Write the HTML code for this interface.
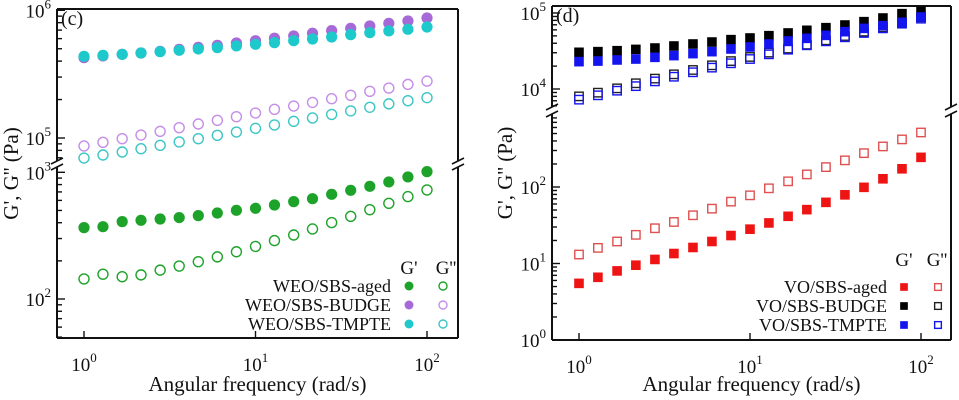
<!DOCTYPE html>
<html><head><meta charset="utf-8"><style>
html,body{margin:0;padding:0;background:#fff;}
svg{display:block;font-family:"Liberation Serif",serif;}
</style></head><body>
<svg id="c" width="959" height="400" viewBox="0 0 959 400" xmlns="http://www.w3.org/2000/svg"></svg>
<script>
// ---------- data ----------
const freq = [1,1.29,1.67,2.15,2.78,3.59,4.64,5.99,7.74,10,12.9,16.7,21.5,27.8,35.9,46.4,59.9,77.4,100];
// panel (c)
const weoTmpteGp  = [4.36e5,4.44e5,4.52e5,4.63e5,4.74e5,4.86e5,4.98e5,5.10e5,5.26e5,5.42e5,5.58e5,5.78e5,5.96e5,6.18e5,6.45e5,6.68e5,6.89e5,7.10e5,7.40e5];
const weoBudgeGp  = [4.26e5,4.39e5,4.52e5,4.63e5,4.77e5,4.95e5,5.13e5,5.32e5,5.55e5,5.78e5,6.04e5,6.30e5,6.61e5,6.93e5,7.23e5,7.54e5,7.91e5,8.25e5,8.71e5];
const weoBudgeGpp = [8.66e4,9.25e4,9.88e4,1.055e5,1.127e5,1.205e5,1.287e5,1.375e5,1.469e5,1.569e5,1.677e5,1.78e5,1.90e5,2.03e5,2.16e5,2.32e5,2.46e5,2.63e5,2.79e5];
const weoTmpteGpp = [6.97e4,7.36e4,7.77e4,8.24e4,8.76e4,9.31e4,9.88e4,1.05e5,1.114e5,1.19e5,1.265e5,1.35e5,1.435e5,1.53e5,1.63e5,1.74e5,1.85e5,1.96e5,2.07e5];
const weoAgedGp   = [366,372,408,418,428,439,455,477,501,520,552,587,619,670,721,775,839,919,1012];
const weoAgedGpp  = [144,157,150,155,169,182,197,215,236,260,289,320,357,401,449,507,569,643,726];
// panel (d)
const voBudgeGp   = [3.04e4,3.10e4,3.19e4,3.32e4,3.46e4,3.68e4,3.91e4,4.15e4,4.46e4,4.69e4,5.03e4,5.46e4,5.92e4,6.41e4,6.95e4,7.69e4,8.59e4,9.8e4,1.05e5];
const voTmpteGp   = [2.29e4,2.33e4,2.41e4,2.48e4,2.61e4,2.75e4,2.92e4,3.10e4,3.36e4,3.57e4,3.91e4,4.28e4,4.64e4,5.08e4,5.68e4,6.28e4,6.81e4,7.54e4,8.85e4];
const voBudgeGpp  = [8.0e3,8.95e3,1.02e4,1.19e4,1.37e4,1.56e4,1.78e4,2.05e4,2.33e4,2.64e4,3.01e4,3.40e4,3.83e4,4.37e4,4.98e4,5.68e4,6.48e4,7.39e4,8.77e4];
const voTmpteGpp  = [7.24e3,8.26e3,9.5e3,1.09e4,1.26e4,1.45e4,1.66e4,1.91e4,2.18e4,2.48e4,2.86e4,3.29e4,3.76e4,4.24e4,4.79e4,5.46e4,6.28e4,7.24e4,8.42e4];
const voAgedGp    = [5.5,6.6,8.0,9.5,11.3,13.5,16.2,19.4,23.2,28.1,33.9,41.4,50.6,63,79,99,128,173,244];
const voAgedGpp   = [13.1,16.0,19.4,23.7,28.9,34.9,42.7,52.1,64.4,77.8,96.1,118.6,146,182,223,277,339,419,516];
const xTickLabels = ["0","1","2"];
const legendC = ["WEO/SBS-aged","WEO/SBS-BUDGE","WEO/SBS-TMPTE"];
const legendD = ["VO/SBS-aged","VO/SBS-BUDGE","VO/SBS-TMPTE"];

const NS="http://www.w3.org/2000/svg";
const svg=document.getElementById('c');
function mk(tag,attrs,parent){const e=document.createElementNS(NS,tag);for(const k in attrs)e.setAttribute(k,attrs[k]);(parent||svg).appendChild(e);return e;}
function pow10(g,x,y,exp,anchor,fs){
  const t=mk('text',{x:x,y:y,'font-size':fs||19,'text-anchor':anchor||'middle',fill:'#111'},g);
  
  
  const a=document.createElementNS(NS,'tspan');a.textContent='10';t.appendChild(a);
  const b=document.createElementNS(NS,'tspan');b.setAttribute('dy','-9');b.setAttribute('font-size','13');b.textContent=exp;t.appendChild(b);
  return t;
}

function panel(o){
  const g=mk('g',{});
  
  
  const X=v=>o.x0+Math.log10(v)*o.dec;
  const segY=(s,v)=>s.ref-(Math.log10(v)-s.refLog)*s.dec;
  mk('line',{x1:o.L,y1:o.T,x2:o.R,y2:o.T,stroke:'#111','stroke-width':2},g);
  mk('line',{x1:o.L,y1:o.B,x2:o.R,y2:o.B,stroke:'#111','stroke-width':2},g);
  [o.L,o.R].forEach(xx=>{
    mk('line',{x1:xx,y1:o.T,x2:xx,y2:o.bk1,stroke:'#111','stroke-width':2},g);
    mk('line',{x1:xx,y1:o.bk2,x2:xx,y2:o.B,stroke:'#111','stroke-width':2},g);
    mk('line',{x1:xx-6,y1:o.bk1+3,x2:xx+6,y2:o.bk1-3,stroke:'#111','stroke-width':1.6},g);
    mk('line',{x1:xx-6,y1:o.bk2+3,x2:xx+6,y2:o.bk2-3,stroke:'#111','stroke-width':1.6},g);
  });
  o.segs.forEach(s=>{
    for(let e=s.lo;e<=s.hi;e++){
      for(let m=1;m<10;m++){
        const v=m*Math.pow(10,e);const y=segY(s,v);
        if(y<s.top-0.5||y>s.bot+0.5)continue;
        mk('line',{x1:o.L,y1:y,x2:o.L+(m==1?8:5),y2:y,stroke:'#111','stroke-width':1.4},g);
        if(m==1&&s.labels.includes(e)) pow10(g,o.L-6,y+7,String(e),'end',19);
      }
    }
  });
  for(let e=0;e<=2;e++){
    const x=X(Math.pow(10,e));
    mk('line',{x1:x,y1:o.B,x2:x,y2:o.B-7,stroke:'#111','stroke-width':1.4},g);
    pow10(g,x,o.B+33,xTickLabels[e],'middle',19);
  }
  const xt=mk('text',{x:(o.L+o.R)/2,y:391,'font-size':21,'text-anchor':'middle',fill:'#111'},g);
  xt.textContent='Angular frequency (rad/s)';
  
  
  const yt=mk('text',{x:0,y:0,'font-size':21,'text-anchor':'middle',fill:'#111',transform:`translate(${o.ytx},${(o.T+o.B)/2}) rotate(-90)`},g);
  yt.textContent="G', G'' (Pa)";
  
  
  const pl=mk('text',{x:o.L+4,y:o.T+16,'font-size':20,fill:'#111'},g);
  pl.textContent=o.letter;
  
  
  o.series.forEach(sr=>{
    const sg=mk('g',{},g);
    
    
    const s=o.segs[sr.seg];
    sr.data.forEach((v,i)=>{
      const x=X(freq[i]);let y=segY(s,v);
      drawMarker(sg,o.shape,x,y,sr.color,sr.filled);
    });
  });
  const lg=mk('g',{},g);
  
  
  const h1=mk('text',{x:o.lg.fx,y:o.lg.hy,'font-size':19,'text-anchor':'middle',fill:'#111'},lg);h1.textContent="G'";
  const h2=mk('text',{x:o.lg.ohx,y:o.lg.hy,'font-size':19,'text-anchor':'middle',fill:'#111'},lg);h2.textContent="G''";
  o.lg.labels.forEach((lab,i)=>{
    const y=o.lg.y0+i*19;
    const t=mk('text',{x:o.lg.tx,y:y+6,'font-size':18,'text-anchor':'end',fill:'#111'},lg);t.textContent=lab;
    
    
    drawMarker(lg,o.shape,o.lg.fx,y,o.lg.colors[i],true,0.8);
    drawMarker(lg,o.shape,o.lg.ox,y,o.lg.ocolors[i],false,0.8);
  });
}
function drawMarker(g,shape,x,y,c,filled,sc){
  sc=sc||1;let e;
  if(shape==='circle'){
    const r=(filled?5.6:5)*sc;
    e=mk('circle',{cx:x,cy:y,r:r,fill:filled?c:'none',stroke:c,'stroke-width':filled?0:1.4},g);
  } else {
    const h=(filled?4.8:4.2)*sc;
    e=mk('rect',{x:x-h,y:y-h,width:2*h,height:2*h,fill:filled?c:'none',stroke:c,'stroke-width':filled?0:1.4},g);
  }
  
  
}

const GREEN='#1ea32a',PURP='#a66ad8',PURPO='#c58ee8',CYAN='#1ec9cc',CYANO='#3cc6c6';
panel({name:'panel-c',letter:'(c)',L:57,R:458,T:9,B:338,bk1:161,bk2:167,x0:84,dec:171.5,ytx:18,shape:'circle',
  segs:[{ref:138,refLog:5,dec:127.7,lo:4,hi:6,top:9,bot:160,labels:[5,6]},
        {ref:299,refLog:2,dec:126.7,lo:1,hi:3,top:168,bot:338,labels:[2,3]}],
  series:[
    {name:'weo-tmpte-gpp',data:weoTmpteGpp,seg:0,color:CYANO,filled:false},
    {name:'weo-budge-gpp',data:weoBudgeGpp,seg:0,color:PURPO,filled:false},
    {name:'weo-budge-gp',data:weoBudgeGp,seg:0,color:PURP,filled:true},
    {name:'weo-tmpte-gp',data:weoTmpteGp,seg:0,color:CYAN,filled:true},
    {name:'weo-aged-gpp',data:weoAgedGpp,seg:1,color:GREEN,filled:false},
    {name:'weo-aged-gp',data:weoAgedGp,seg:1,color:GREEN,filled:true}],
  lg:{fx:409,ox:443,ohx:446,hy:274,y0:286,tx:391,labels:legendC,colors:[GREEN,PURP,CYAN],ocolors:[GREEN,PURPO,CYANO]}
});
const RED='#ee1414',BLK='#000',BLUE='#1414ee',REDO='#e05050';
panel({name:'panel-d',letter:'(d)',L:552,R:951,T:6,B:340,bk1:107,bk2:114,x0:579,dec:171,ytx:512,shape:'square',
  segs:[{ref:89,refLog:4,dec:76,lo:3,hi:5,top:6,bot:106,labels:[4,5]},
        {ref:187,refLog:2,dec:76.5,lo:0,hi:2,top:115,bot:340,labels:[0,1,2]}],
  series:[
    {name:'vo-budge-gpp',data:voBudgeGpp,seg:0,color:'#222',filled:false},
    {name:'vo-tmpte-gpp',data:voTmpteGpp,seg:0,color:BLUE,filled:false},
    {name:'vo-budge-gp',data:voBudgeGp,seg:0,color:BLK,filled:true},
    {name:'vo-tmpte-gp',data:voTmpteGp,seg:0,color:BLUE,filled:true},
    {name:'vo-aged-gpp',data:voAgedGpp,seg:1,color:REDO,filled:false},
    {name:'vo-aged-gp',data:voAgedGp,seg:1,color:RED,filled:true}],
  lg:{fx:904,ox:938,ohx:937,hy:266,y0:287,tx:887,labels:legendD,colors:[RED,BLK,BLUE],ocolors:[REDO,'#222',BLUE]}
});
</script>
</body></html>
